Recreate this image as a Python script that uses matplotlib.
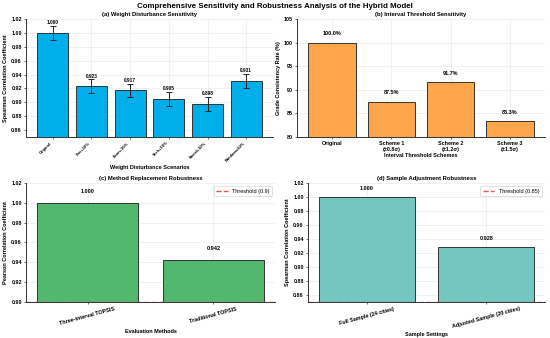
import matplotlib
matplotlib.use("Agg")
import matplotlib.pyplot as plt
import numpy as np

plt.rcParams['font.family'] = ['Liberation Sans', 'DejaVu Sans']

# Data
a_labels = ["Original", "Env+10%", "Econ+10%", "Tech+10%", "Social+10%", "Random±10%"]
a_values = [1.000, 0.923, 0.917, 0.905, 0.898, 0.931]
a_errors = [0.010, 0.010, 0.010, 0.010, 0.010, 0.010]

b_labels = ["Original", "Scheme 1\n(±0.8σ)", "Scheme 2\n(±1.2σ)", "Scheme 3\n(±1.5σ)"]
b_values = [100.0, 87.5, 91.7, 83.3]

c_labels = ["Three-interval TOPSIS", "Traditional TOPSIS"]
c_values = [1.000, 0.942]
c_threshold = 0.9

d_labels = ["Full Sample (24 cities)", "Adjusted Sample (20 cities)"]
d_values = [1.000, 0.928]
d_threshold = 0.85

fig = plt.figure(figsize=(5.5, 3.38), dpi=100)
W, H = 550.0, 338.0

def add_ax(x0, y0, x1, y1):
    return fig.add_axes([x0 / W, 1 - y1 / H, (x1 - x0) / W, (y1 - y0) / H])

axa = add_ax(26, 19, 273, 137)
axb = add_ax(297, 19, 545, 137)
axc = add_ax(26, 183, 275, 302)
axd = add_ax(308, 183, 545, 302)

TFS = 4.2
LFS = 4.0
KFS = 3.9
VFS = 4.0

def style(ax):
    ax.set_facecolor('white')
    ax.grid(True, color='#e6e6e6', linewidth=0.4)
    ax.set_axisbelow(True)
    for s in ['top', 'right']:
        ax.spines[s].set_visible(False)
    for s in ['left', 'bottom']:
        ax.spines[s].set_color('#333333')
        ax.spines[s].set_linewidth(0.7)
    ax.tick_params(axis='both', labelsize=KFS, length=1.5, width=0.4, pad=1.5)
    for lab in ax.get_xticklabels() + ax.get_yticklabels():
        lab.set_fontweight('bold')

# (a)
xa = np.arange(len(a_values))
axa.bar(xa, a_values, width=0.8, color='#00AEEA', edgecolor='#333333', linewidth=0.7,
        yerr=a_errors, capsize=2.0, error_kw=dict(elinewidth=0.7, capthick=0.7, ecolor='#222222'))
for x, v, e in zip(xa, a_values, a_errors):
    axa.text(x, v + e + 0.001, f"{v:.3f}", ha='center', va='bottom', fontsize=3.4, fontweight='bold')
axa.set_ylim(0.85, 1.02)
axa.set_yticks(np.arange(0.86, 1.021, 0.02))
axa.set_xticks(xa)
axa.set_xticklabels(a_labels, rotation=45, ha='right', fontsize=2.9)
axa.set_title("(a) Weight Disturbance Sensitivity", fontsize=TFS, fontweight='bold', pad=2.5)
axa.set_xlabel("Weight Disturbance Scenarios", fontsize=LFS, fontweight='bold', labelpad=2)
axa.set_ylabel("Spearman Correlation Coefficient", fontsize=LFS, fontweight='bold', labelpad=2)
style(axa)
for lab in axa.get_xticklabels():
    lab.set_fontsize(2.9)

# (b)
xb = np.arange(len(b_values))
axb.bar(xb, b_values, width=0.8, color='#FFA64D', edgecolor='#333333', linewidth=0.7)
for x, v in zip(xb, b_values):
    axb.text(x, v + 1.3, f"{v:.1f}%", ha='center', va='bottom', fontsize=VFS, fontweight='bold')
axb.set_ylim(80, 105)
axb.set_xticks(xb)
axb.set_xticklabels(b_labels)
axb.set_title("(b) Interval Threshold Sensitivity", fontsize=TFS, fontweight='bold', pad=2.5)
axb.set_xlabel("Interval Threshold Schemes", fontsize=LFS, fontweight='bold', labelpad=0.5)
axb.set_ylabel("Grade Consistency Rate (%)", fontsize=LFS, fontweight='bold', labelpad=2)
style(axb)

# (c)
xc = np.arange(len(c_values))
axc.bar(xc, c_values, width=0.8, color='#52B86E', edgecolor='#333333', linewidth=0.7)
axc.axhline(c_threshold, color='#F05050', linestyle='--', linewidth=1.0, label=f"Threshold ({c_threshold})")
for x, v in zip(xc, c_values):
    axc.text(x, v + 0.009, f"{v:.3f}", ha='center', va='bottom', fontsize=VFS, fontweight='bold')
axc.set_ylim(0.90, 1.02)
axc.set_yticks(np.arange(0.90, 1.021, 0.02))
axc.set_xticks(xc)
axc.set_xticklabels(c_labels, rotation=15, ha='center')
axc.set_title("(c) Method Replacement Robustness", fontsize=TFS, fontweight='bold', pad=2.5)
axc.set_xlabel("Evaluation Methods", fontsize=LFS, fontweight='bold', labelpad=2)
axc.set_ylabel("Pearson Correlation Coefficient", fontsize=LFS, fontweight='bold', labelpad=2)
leg = axc.legend(loc='upper right', fontsize=4.0, frameon=True, handlelength=2.0, borderpad=0.5)
leg.get_frame().set_linewidth(0.5)
style(axc)

# (d)
xd = np.arange(len(d_values))
axd.bar(xd, d_values, width=0.8, color='#74C6C0', edgecolor='#333333', linewidth=0.7)
axd.axhline(d_threshold, color='#F05050', linestyle='--', linewidth=1.0, label=f"Threshold ({d_threshold})")
for x, v in zip(xd, d_values):
    axd.text(x, v + 0.009, f"{v:.3f}", ha='center', va='bottom', fontsize=VFS, fontweight='bold')
axd.set_ylim(0.85, 1.02)
axd.set_yticks(np.arange(0.86, 1.021, 0.02))
axd.set_xticks(xd)
axd.set_xticklabels(d_labels, rotation=15, ha='center')
axd.set_title("(d) Sample Adjustment Robustness", fontsize=TFS, fontweight='bold', pad=2.5)
axd.set_xlabel("Sample Settings", fontsize=LFS, fontweight='bold', labelpad=2)
axd.set_ylabel("Spearman Correlation Coefficient", fontsize=LFS, fontweight='bold', labelpad=2)
leg = axd.legend(loc='upper right', fontsize=4.0, frameon=True, handlelength=2.0, borderpad=0.5)
leg.get_frame().set_linewidth(0.5)
style(axd)

fig.text(0.5, 1 - 6 / H, "Comprehensive Sensitivity and Robustness Analysis of the Hybrid Model",
         ha='center', va='center', fontsize=5.7, fontweight='bold')

fig.savefig("out.png", dpi=100, facecolor='white')
